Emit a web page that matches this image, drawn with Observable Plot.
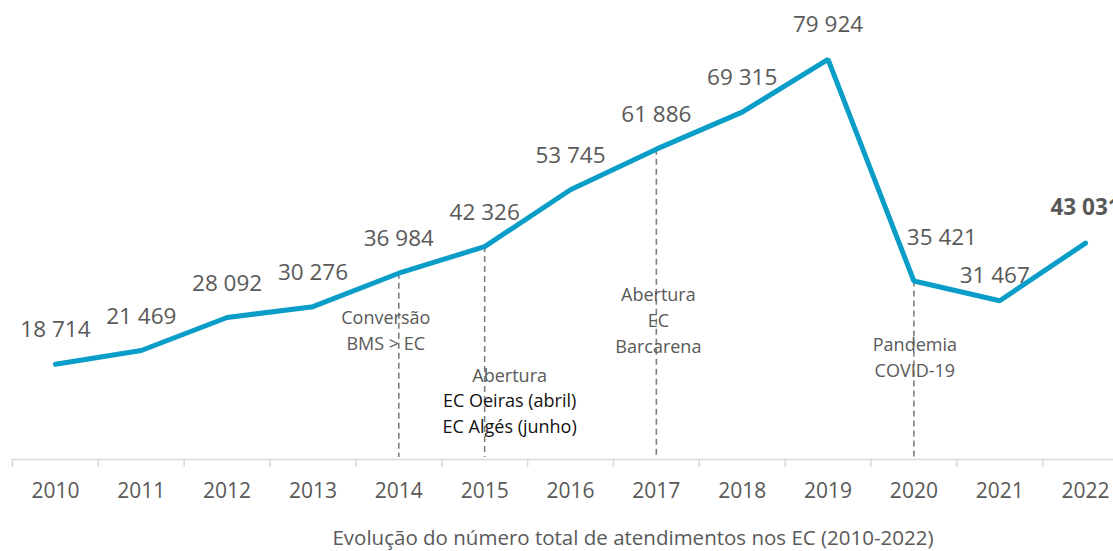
<!DOCTYPE html>
<html>
<head>
<meta charset="utf-8">
<script src="https://cdn.jsdelivr.net/npm/d3@7"></script>
<script src="https://cdn.jsdelivr.net/npm/@observablehq/plot@0.6"></script>
<style>
  html, body { margin: 0; padding: 0; background: #fff; overflow: hidden; width: 1113px; height: 551px; }
  #wrap { position: relative; width: 1113px; height: 551px; }
  #caption { position: absolute; top: 525px; left: 633px; transform: translateX(-50%); white-space: nowrap;
    font-family: "Open Sans", sans-serif; font-size: 20.5px; line-height: 24px; color: #595959; }
</style>
</head>
<body>
<div id="wrap"><div id="chart"></div><div id="caption">Evolução do número total de atendimentos nos EC (2010-2022)</div></div>
<script>
const years = ["2010","2011","2012","2013","2014","2015","2016","2017","2018","2019","2020","2021","2022"];
const totals = [18714, 21469, 28092, 30276, 36984, 42326, 53745, 61886, 69315, 79924, 35421, 31467, 43031];
const markerYears = ["2014", "2015", "2017", "2020"];
const noteConversao = "Conversão\nBMS > EC";
const noteAbertura = "Abertura";
const noteOeiras = "EC Oeiras (abril)\nEC Algés (junho)";
const noteBarcarena = "Abertura\nEC\nBarcarena";
const notePandemia = "Pandemia\nCOVID-19";

const data = years.map((y, i) => ({year: y, value: totals[i]}));
const fmt = v => d3.format(",")(v).replace(/,/g, " ");
const byYear = y => data.find(d => d.year === y);

const xRange = [12, 1128];
const step = (xRange[1] - xRange[0]) / years.length;
const font = "Open Sans, sans-serif";
const grey = "#595959";

const plain = data.filter(d => !["2020","2021","2022"].includes(d.year));
const note = {frameAnchor: "bottom", lineAnchor: "middle", text: d => d, fontSize: 18, lineHeight: 1.44};

const chart = Plot.plot({
  width: 1113,
  height: 510,
  marginLeft: 11,
  marginRight: 0,
  marginTop: 0,
  marginBottom: 51,
  style: {fontFamily: font, background: "transparent", overflow: "visible"},
  x: {type: "point", domain: years, range: xRange, padding: 0.5, round: false, label: null},
  y: {domain: [0, 80000], range: [457, 58.4], axis: null},
  marks: [
    Plot.ruleY([0], {dy: 2, stroke: "#d9d9d9", strokeWidth: 1.5}),
    Plot.axisX({tickSize: 8, tickFormat: () => "", dx: -step / 2, stroke: "#d9d9d9", strokeWidth: 1.5, label: null}),
    Plot.axisX({tickSize: 0, tickPadding: 24, fontSize: 21, fill: grey, label: null}),
    Plot.ruleX(markerYears.map(byYear), {x: "year", y1: "value", y2: 0, stroke: "#7f7f7f", strokeWidth: 1.6, strokeDasharray: "6,4"}),
    Plot.line(data, {x: "year", y: "value", stroke: "#0A9DC7", strokeWidth: 5, strokeLinejoin: "miter"}),
    Plot.text(plain, {x: "year", y: "value", text: d => fmt(d.value), dy: -34, fontSize: 22.5, fill: grey}),
    Plot.text([byYear("2020")], {x: "year", y: "value", text: d => fmt(d.value), dx: 28, dy: -43, fontSize: 22.5, fill: grey}),
    Plot.text([byYear("2021")], {x: "year", y: "value", text: d => fmt(d.value), dx: -5, dy: -25, fontSize: 22.5, fill: grey}),
    Plot.text([byYear("2022")], {x: "year", y: "value", text: d => fmt(d.value), dy: -35, fontSize: 22.5, fontWeight: "bold", fill: grey}),
    Plot.text([noteConversao], {...note, x: () => "2014", dx: -13, dy: -131, fill: grey}),
    Plot.text([noteAbertura], {...note, x: () => "2015", dx: 25, dy: -86, fill: grey}),
    Plot.text([noteOeiras], {...note, x: () => "2015", dx: 25, dy: -47.5, fill: "#111"}),
    Plot.text([noteBarcarena], {...note, x: () => "2017", dx: 2, dy: -141, fill: grey}),
    Plot.text([notePandemia], {...note, x: () => "2020", dx: 1, dy: -103.5, fill: grey})
  ]
});
document.getElementById("chart").appendChild(chart);
</script>
</body>
</html>
